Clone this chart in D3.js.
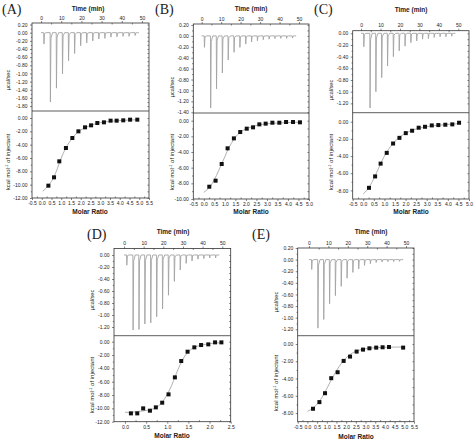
<!DOCTYPE html>
<html><head><meta charset="utf-8">
<script src="https://cdn.jsdelivr.net/npm/d3@7"></script>
<style>
html,body{margin:0;padding:0;background:#fff;}
svg{display:block;font-family:Arial,"Liberation Sans",sans-serif;}
</style></head>
<body><svg id="c" width="474" height="443"></svg>
<script>
// ---------------- DATA ----------------
const panelLetters = ["(A)", "(B)", "(C)", "(D)", "(E)"];
const timeTicks = [0, 10, 20, 30, 40, 50];
const injTimes = [1.3, 4.5, 7.5, 10.5, 13.5, 16.5, 19.5, 22.5, 25.5, 28.5, 31.5, 34.5, 37.5, 40.5, 43.5, 46.5];

// raw peaks (µcal/sec) at each injection
const rawA = [-0.28, -1.70, -1.36, -1.01, -0.69, -0.51, -0.32, -0.25, -0.20, -0.155, -0.14, -0.11, -0.10, -0.09, -0.09, -0.07];
const rawB = [-0.21, -1.32, -0.97, -0.68, -0.44, -0.30, -0.21, -0.15, -0.11, -0.09, -0.07, -0.06, -0.05, -0.045, -0.045, -0.04];
const rawC = [-0.23, -1.28, -1.00, -0.76, -0.56, -0.40, -0.30, -0.22, -0.16, -0.13, -0.10, -0.09, -0.07, -0.06, -0.06, -0.05];
const rawD = [-0.17, -1.25, -1.24, -1.15, -1.13, -1.03, -0.90, -0.67, -0.44, -0.25, -0.14, -0.10, -0.07, -0.06, -0.05, -0.05];
const rawE = [-0.17, -1.18, -1.03, -0.76, -0.62, -0.46, -0.32, -0.22, -0.16, -0.10, -0.07, -0.05, -0.04, -0.035, -0.035, -0.03];

// integrated heats (kcal/mol of injectant) vs molar ratio
const ratioA = [0.34, 0.63, 0.90, 1.24, 1.57, 1.88, 2.22, 2.53, 2.85, 3.19, 3.53, 3.84, 4.18, 4.53, 4.90];
const heatA  = [-10.15, -8.9, -6.5, -4.5, -3.0, -2.0, -1.4, -1.1, -0.75, -0.65, -0.4, -0.4, -0.35, -0.25, -0.25];
const fitXA = [0.05, 0.2, 0.4, 0.6, 0.8, 0.9, 1.0, 1.2, 1.4, 1.6, 1.8, 2.0, 2.3, 2.6, 3.0, 3.5, 4.0, 4.5, 4.9];
const fitYA = [-11.0, -10.6, -9.9, -9.0, -7.6, -6.8, -6.0, -4.7, -3.7, -2.9, -2.25, -1.8, -1.35, -1.0, -0.7, -0.5, -0.38, -0.3, -0.27];

const ratioB = [0.26, 0.56, 0.85, 1.13, 1.43, 1.73, 2.04, 2.34, 2.64, 2.94, 3.26, 3.59, 3.91, 4.24, 4.57];
const heatB  = [-8.43, -7.66, -5.53, -3.53, -2.26, -1.45, -1.02, -0.85, -0.47, -0.38, -0.26, -0.26, -0.17, -0.17, -0.21];
const fitXB = [0.0, 0.2, 0.4, 0.6, 0.8, 1.0, 1.2, 1.4, 1.6, 1.8, 2.0, 2.3, 2.6, 3.0, 3.5, 4.0, 4.57];
const fitYB = [-9.15, -8.7, -8.0, -7.0, -5.8, -4.6, -3.4, -2.5, -1.8, -1.35, -1.05, -0.75, -0.55, -0.4, -0.3, -0.24, -0.2];

const ratioC = [0.27, 0.56, 0.82, 1.11, 1.41, 1.71, 2.01, 2.31, 2.62, 2.92, 3.24, 3.55, 3.88, 4.21, 4.53];
const heatC  = [-7.7, -6.37, -4.88, -3.63, -2.54, -1.88, -1.33, -1.05, -0.70, -0.59, -0.43, -0.39, -0.35, -0.31, -0.12];
const fitXC = [0.0, 0.2, 0.4, 0.6, 0.8, 1.0, 1.2, 1.4, 1.6, 1.8, 2.0, 2.3, 2.6, 3.0, 3.5, 4.0, 4.53];
const fitYC = [-8.4, -7.9, -7.1, -6.1, -5.0, -4.0, -3.2, -2.55, -2.05, -1.65, -1.35, -1.0, -0.78, -0.58, -0.42, -0.32, -0.22];

const ratioD = [0.14, 0.29, 0.43, 0.59, 0.73, 0.88, 1.03, 1.18, 1.33, 1.48, 1.64, 1.80, 1.97, 2.13, 2.28];
const heatD  = [-10.75, -10.75, -10.0, -10.35, -9.85, -9.15, -7.9, -5.35, -2.9, -1.5, -0.85, -0.5, -0.4, -0.1, -0.1];
const fitXD = [0.0, 0.2, 0.4, 0.6, 0.7, 0.8, 0.9, 1.0, 1.1, 1.2, 1.3, 1.4, 1.5, 1.6, 1.75, 1.9, 2.1, 2.28];
const fitYD = [-10.6, -10.55, -10.4, -10.2, -10.0, -9.6, -8.9, -7.9, -6.6, -5.0, -3.5, -2.3, -1.5, -1.0, -0.6, -0.4, -0.22, -0.15];

const ratioE = [0.29, 0.62, 0.91, 1.23, 1.56, 1.87, 2.20, 2.54, 2.87, 3.20, 3.55, 3.88, 4.21, 4.94];
const heatE  = [-7.5, -6.73, -5.7, -3.96, -3.27, -1.96, -1.46, -0.88, -0.65, -0.5, -0.42, -0.38, -0.35, -0.42];
const fitXE = [0.0, 0.3, 0.6, 0.9, 1.2, 1.5, 1.8, 2.1, 2.4, 2.7, 3.0, 3.5, 4.0, 4.5, 4.94];
const fitYE = [-7.8, -7.4, -6.7, -5.6, -4.3, -3.1, -2.1, -1.4, -0.95, -0.7, -0.55, -0.43, -0.38, -0.36, -0.35];

// tick label values
const rawTicksA = [0.2, 0, -0.2, -0.4, -0.6, -0.8, -1.0, -1.2, -1.4, -1.6, -1.8];
const rawTicksB = [0.2, 0, -0.2, -0.4, -0.6, -0.8, -1.0, -1.2, -1.4];
const rawTicksC = [0, -0.2, -0.4, -0.6, -0.8, -1.0, -1.2];
const rawTicksD = [0, -0.2, -0.4, -0.6, -0.8, -1.0, -1.2];
const rawTicksE = [0.2, 0, -0.2, -0.4, -0.6, -0.8, -1.0, -1.2];
const heatTicks12 = [0, -2, -4, -6, -8, -10, -12];
const heatTicks10 = [0, -2, -4, -6, -8, -10];
const heatTicks8 = [0, -2, -4, -6, -8];
const ratioTicks55 = [-0.5, 0, 0.5, 1, 1.5, 2, 2.5, 3, 3.5, 4, 4.5, 5, 5.5];
const ratioTicks50 = [-0.5, 0, 0.5, 1, 1.5, 2, 2.5, 3, 3.5, 4, 4.5, 5];
const ratioTicks25 = [0, 0.5, 1, 1.5, 2, 2.5];

// ---------------- LAYOUT ----------------
const panels = [
  {letter: panelLetters[0], lx: 2, ly: 14, L: 32, R: 149, T: 23, M: 111, B: 198,
   tDom: [-4.5, 53.5], yTop: [0.237, -1.92], yBot: [1.05, -12], xDom: [-0.5, 5.5],
   raw: rawA, rawTicks: rawTicksA, heatTicks: heatTicks12, rTicks: ratioTicks55,
   ratio: ratioA, heat: heatA, fx: fitXA, fy: fitYA,
   tcx: 88, tcy: 11, ut: [10, 80], kt: [10, 162], mr: [90, 214]},
  {letter: panelLetters[1], lx: 155, ly: 14, L: 193.3, R: 309, T: 24, M: 113, B: 199,
   tDom: [-4.3, 55.1], yTop: [0.218, -1.413], yBot: [0.98, -10], xDom: [-0.5, 5.0],
   raw: rawB, rawTicks: rawTicksB, heatTicks: heatTicks10, rTicks: ratioTicks50,
   ratio: ratioB, heat: heatB, fx: fitXB, fy: fitYB,
   tcx: 251, tcy: 11, ut: [174, 87], kt: [174, 162], mr: [251, 214]},
  {letter: panelLetters[2], lx: 314, ly: 14, L: 352.7, R: 469, T: 30.7, M: 112.7, B: 199,
   tDom: [-4.3, 55.5], yTop: [0.045, -1.36], yBot: [1.05, -9], xDom: [-0.5, 5.0],
   raw: rawC, rawTicks: rawTicksC, heatTicks: heatTicks8, rTicks: ratioTicks50,
   ratio: ratioC, heat: heatC, fx: fitXC, fy: fitYC,
   tcx: 411, tcy: 12, ut: [333, 90], kt: [333, 162], mr: [411, 214]},
  {letter: panelLetters[3], lx: 87, ly: 239, L: 114, R: 230.7, T: 248.5, M: 335.7, B: 421.7,
   tDom: [-5.1, 54.3], yTop: [0.108, -1.345], yBot: [0.9, -12], xDom: [-0.26, 2.5],
   raw: rawD, rawTicks: rawTicksD, heatTicks: heatTicks12, rTicks: ratioTicks25,
   ratio: ratioD, heat: heatD, fx: fitXD, fy: fitYD,
   tcx: 173, tcy: 234, ut: [94, 300], kt: [94, 385], mr: [172, 438]},
  {letter: panelLetters[4], lx: 252, ly: 239, L: 297.7, R: 414, T: 248, M: 335.7, B: 421.7,
   tDom: [-5.8, 54.1], yTop: [0.2, -1.31], yBot: [0.96, -9], xDom: [-0.5, 5.5],
   raw: rawE, rawTicks: rawTicksE, heatTicks: heatTicks8, rTicks: ratioTicks55,
   ratio: ratioE, heat: heatE, fx: fitXE, fy: fitYE,
   tcx: 371, tcy: 234, ut: [278, 302], kt: [278, 383], mr: [356, 439]}
];

const svg = d3.select("#c");
const INK = "#333";
const f2 = d => d.toFixed(2);
const f1 = d => d.toFixed(1);

function mids(arr) {
  const out = [];
  for (let i = 0; i < arr.length - 1; i++) out.push((arr[i] + arr[i + 1]) / 2);
  return out;
}

function styleAxis(sel, fs) {
  sel.select(".domain").remove();
  sel.selectAll("line").attr("stroke", INK).attr("stroke-width", 0.6);
  sel.selectAll("text").attr("font-size", fs).attr("fill", "#222").attr("font-family", "Arial, 'Liberation Sans', sans-serif");
}

function drawPanel(p) {
  const g = svg.append("g");
  const xT = d3.scaleLinear().domain(p.tDom).range([p.L, p.R]);
  const yT = d3.scaleLinear().domain(p.yTop).range([p.T, p.M]);
  const xB = d3.scaleLinear().domain(p.xDom).range([p.L, p.R]);
  const yB = d3.scaleLinear().domain(p.yBot).range([p.M, p.B]);

  // raw thermogram trace: sharp spike at each injection
  const pts = [[0, 0]];
  injTimes.forEach((t, i) => {
    pts.push([t, 0]);
    pts.push([t + 0.12, p.raw[i]]);
    pts.push([t + 0.4, p.raw[i] * 0.08]);
    pts.push([t + 1.2, 0]);
  });
  pts.push([48.5, 0]);
  g.append("path").datum(pts)
    .attr("d", d3.line().x(d => xT(d[0])).y(d => yT(d[1])))
    .attr("fill", "none").attr("stroke", "#a3a3a3").attr("stroke-width", 0.9)
    .attr("stroke-linejoin", "miter");

  // fit curve
  const fit = p.fx.map((x, i) => [x, p.fy[i]]);
  g.append("path").datum(fit)
    .attr("d", d3.line().curve(d3.curveMonotoneX).x(d => xB(d[0])).y(d => yB(d[1])))
    .attr("fill", "none").attr("stroke", "#a8a8a8").attr("stroke-width", 0.9);

  // squares
  const s = 4;
  g.selectAll("rect.pt").data(p.ratio).enter().append("rect")
    .attr("x", (d) => xB(d) - s / 2)
    .attr("y", (d, i) => yB(p.heat[i]) - s / 2)
    .attr("width", s).attr("height", s).attr("fill", "#111");

  // frames
  g.append("rect").attr("x", p.L).attr("y", p.T).attr("width", p.R - p.L).attr("height", p.B - p.T)
    .attr("fill", "none").attr("stroke", INK).attr("stroke-width", 0.8);
  g.append("line").attr("x1", p.L).attr("x2", p.R).attr("y1", p.M).attr("y2", p.M)
    .attr("stroke", INK).attr("stroke-width", 0.8);

  // top time axis
  const ta = g.append("g").attr("transform", `translate(0,${p.T})`)
    .call(d3.axisTop(xT).tickValues(timeTicks).tickSize(2).tickPadding(1.5).tickFormat(d3.format("d")).tickSizeOuter(0));
  styleAxis(ta, 5);
  const tam = g.append("g").attr("transform", `translate(0,${p.T})`)
    .call(d3.axisBottom(xT).tickValues(mids(timeTicks)).tickSize(1.5).tickFormat("").tickSizeOuter(0));
  styleAxis(tam, 5);

  // left raw axis
  const la = g.append("g").attr("transform", `translate(${p.L},0)`)
    .call(d3.axisLeft(yT).tickValues(p.rawTicks).tickSize(2).tickPadding(2.5).tickFormat(f2).tickSizeOuter(0));
  styleAxis(la, 5);
  const lam = g.append("g").attr("transform", `translate(${p.L},0)`)
    .call(d3.axisLeft(yT).tickValues(mids(p.rawTicks)).tickSize(1.2).tickFormat("").tickSizeOuter(0));
  styleAxis(lam, 5);
  const ra = g.append("g").attr("transform", `translate(${p.R},0)`)
    .call(d3.axisLeft(yT).tickValues(p.rawTicks.concat(mids(p.rawTicks))).tickSize(1.5).tickFormat("").tickSizeOuter(0));
  styleAxis(ra, 5);

  // left heat axis
  const lb = g.append("g").attr("transform", `translate(${p.L},0)`)
    .call(d3.axisLeft(yB).tickValues(p.heatTicks).tickSize(2).tickPadding(2.5).tickFormat(f2).tickSizeOuter(0));
  styleAxis(lb, 5);
  const lbm = g.append("g").attr("transform", `translate(${p.L},0)`)
    .call(d3.axisLeft(yB).tickValues(mids(p.heatTicks)).tickSize(1.2).tickFormat("").tickSizeOuter(0));
  styleAxis(lbm, 5);
  const rb = g.append("g").attr("transform", `translate(${p.R},0)`)
    .call(d3.axisLeft(yB).tickValues(p.heatTicks.concat(mids(p.heatTicks))).tickSize(1.5).tickFormat("").tickSizeOuter(0));
  styleAxis(rb, 5);

  // bottom ratio axis
  const ba = g.append("g").attr("transform", `translate(0,${p.B})`)
    .call(d3.axisBottom(xB).tickValues(p.rTicks).tickSize(2).tickPadding(1.5).tickFormat(f1).tickSizeOuter(0));
  styleAxis(ba, 5);
  const bam = g.append("g").attr("transform", `translate(0,${p.B})`)
    .call(d3.axisTop(xB).tickValues(mids(p.rTicks)).tickSize(1.5).tickFormat("").tickSizeOuter(0));
  styleAxis(bam, 5);

  // titles
  svg.append("text").attr("x", p.lx).attr("y", p.ly).text(p.letter)
    .attr("font-family", "'Times New Roman','Liberation Serif',serif").attr("font-size", 14).attr("fill", "#222");
  svg.append("text").attr("x", p.tcx).attr("y", p.tcy).attr("text-anchor", "middle").text("Time (min)")
    .attr("font-size", 6.5).attr("font-weight", "bold").attr("fill", "#222");
  svg.append("text").attr("transform", `translate(${p.ut[0]},${p.ut[1]}) rotate(-90)`).attr("text-anchor", "middle")
    .text("µcal/sec").attr("font-size", 5.5).attr("fill", "#222");
  const kt = svg.append("text").attr("transform", `translate(${p.kt[0]},${p.kt[1]}) rotate(-90)`).attr("text-anchor", "middle")
    .attr("font-size", 6).attr("fill", "#222");
  kt.append("tspan").text("kcal mol");
  kt.append("tspan").text("-1").attr("font-size", 4).attr("dy", -2.5);
  kt.append("tspan").text(" of injectant").attr("dy", 2.5);
  svg.append("text").attr("x", p.mr[0]).attr("y", p.mr[1]).attr("text-anchor", "middle").text("Molar Ratio")
    .attr("font-size", 6.5).attr("font-weight", "bold").attr("fill", "#222");
}

panels.forEach(drawPanel);
</script></body></html>
